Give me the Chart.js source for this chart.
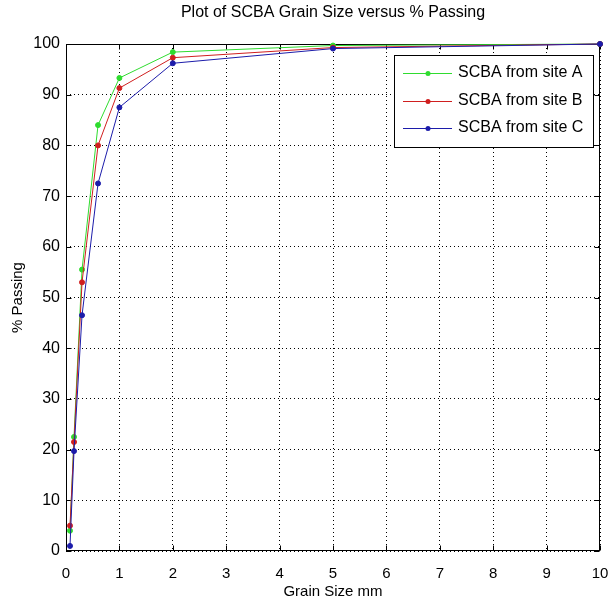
<!DOCTYPE html>
<html>
<head>
<meta charset="utf-8">
<script src="https://cdn.jsdelivr.net/npm/chart.js@4"></script>
<style>
  html, body { margin: 0; padding: 0; background: #fff; }
  #chart { display: block; }
</style>
</head>
<body>
<canvas id="chart" width="609" height="607"></canvas>
<script>
// sieve sizes (mm) and % passing
const grainSize = [0.075, 0.15, 0.3, 0.6, 1, 2, 5, 10];
const siteA = [4, 22.5, 55.5, 84, 93.3, 98.4, 99.7, 100];
const siteB = [5, 21.5, 53, 80, 91.3, 97.3, 99.3, 100];
const siteC = [1, 19.7, 46.5, 72.5, 87.5, 96.2, 99.1, 100];

const seriesLabels = ['SCBA from site A', 'SCBA from site B', 'SCBA from site C'];
const seriesColors = ['#2fdc2f', '#d01f1f', '#1c1caa'];
const xTicks = [0, 1, 2, 3, 4, 5, 6, 7, 8, 9, 10];
const yTicks = [0, 10, 20, 30, 40, 50, 60, 70, 80, 90, 100];
const chartTitle = 'Plot of SCBA Grain Size versus % Passing';

const FONT = "'Liberation Sans', Arial, Helvetica, sans-serif";

const toPoints = (ys) => grainSize.map((g, i) => ({ x: g, y: ys[i] }));

// box round the axes + inward ticks like matlab
const axesBox = {
    id: 'axesBox',
    beforeDatasetsDraw(chart) {
        const { ctx, chartArea: a, scales: { x, y } } = chart;
        const L = Math.round(a.left) + 0.5, R = Math.round(a.right) - 0.5;
        const T = Math.round(a.top) + 0.5, B = Math.round(a.bottom) - 0.5;
        ctx.save();
        ctx.strokeStyle = '#000';
        ctx.lineWidth = 1;
        ctx.setLineDash([]);
        ctx.strokeRect(L, T, R - L, B - T);
        ctx.beginPath();
        xTicks.forEach(v => {
            const px = Math.round(x.getPixelForValue(v)) + 0.5;
            ctx.moveTo(px, B); ctx.lineTo(px, B - 5);
            ctx.moveTo(px, T); ctx.lineTo(px, T + 5);
        });
        yTicks.forEach(v => {
            const py = Math.round(y.getPixelForValue(v)) + 0.5;
            ctx.moveTo(L, py); ctx.lineTo(L + 5, py);
            ctx.moveTo(R, py); ctx.lineTo(R - 5, py);
        });
        ctx.stroke();

        // title sits over the axes, not the whole canvas
        ctx.fillStyle = '#000';
        ctx.font = '16px ' + FONT;
        ctx.textAlign = 'center';
        ctx.textBaseline = 'middle';
        ctx.fillText(chartTitle, (a.left + a.right) / 2, 13);
        ctx.restore();
    }
};

// legend box in the top right corner
const boxLegend = {
    id: 'boxLegend',
    afterDraw(chart) {
        const { ctx } = chart;
        const left = 394.5, top = 55.5, w = 199, h = 92;
        const rows = [73, 101, 128];
        ctx.save();
        ctx.fillStyle = '#fff';
        ctx.fillRect(left, top, w, h);
        ctx.strokeStyle = '#000';
        ctx.lineWidth = 1;
        ctx.strokeRect(left, top, w, h);
        chart.data.datasets.forEach((ds, i) => {
            const yy = rows[i] + 0.5;
            ctx.strokeStyle = ds.borderColor;
            ctx.beginPath();
            ctx.moveTo(403, yy);
            ctx.lineTo(452, yy);
            ctx.stroke();
            ctx.fillStyle = ds.borderColor;
            ctx.beginPath();
            ctx.arc(428, yy, 2.5, 0, Math.PI * 2);
            ctx.fill();
            ctx.fillStyle = '#000';
            ctx.font = '16px ' + FONT;
            ctx.textBaseline = 'middle';
            ctx.fillText(ds.label, 458, rows[i]);
        });
        ctx.restore();
    }
};

const ctx = document.getElementById('chart').getContext('2d');

new Chart(ctx, {
    type: 'line',
    data: {
        datasets: [siteA, siteB, siteC].map((vals, i) => ({
            label: seriesLabels[i],
            data: toPoints(vals),
            borderColor: seriesColors[i],
            backgroundColor: seriesColors[i],
            borderWidth: 1,
            pointRadius: 2.5,
            pointHoverRadius: 2.5,
            tension: 0,
            clip: false,
            order: 3 - i
        }))
    },
    options: {
        responsive: false,
        animation: false,
        layout: { padding: { left: 0, right: 9, top: 44, bottom: 0 } },
        plugins: {
            legend: { display: false },
            tooltip: { enabled: false },
            title: { display: false }
        },
        scales: {
            x: {
                type: 'linear',
                min: 0,
                max: 10,
                afterFit: (s) => { s.height = 56; s.paddingLeft = 0; s.paddingRight = 0; },
                afterBuildTicks: (s) => { s.ticks = xTicks.map(v => ({ value: v })); },
                ticks: { color: '#000', padding: 14, maxRotation: 0, font: { family: FONT, size: 15 } },
                grid: { color: '#000', lineWidth: 1, drawTicks: false },
                border: { display: false, dash: [1, 3] },
                title: {
                    display: true,
                    text: 'Grain Size mm',
                    color: '#000',
                    font: { family: FONT, size: 15 },
                    padding: { top: 0, bottom: 6 }
                }
            },
            y: {
                type: 'linear',
                min: 0,
                max: 100,
                afterFit: (s) => { s.width = 66; s.paddingTop = 0; s.paddingBottom = 0; },
                afterBuildTicks: (s) => { s.ticks = yTicks.map(v => ({ value: v })); },
                ticks: { color: '#000', padding: 6, font: { family: FONT, size: 16 } },
                grid: { color: '#000', lineWidth: 1, drawTicks: false },
                border: { display: false, dash: [1, 3] },
                title: {
                    display: true,
                    text: '% Passing',
                    color: '#000',
                    font: { family: FONT, size: 15 },
                    padding: { top: 9, bottom: 0 }
                }
            }
        }
    },
    plugins: [axesBox, boxLegend]
});
</script>
</body>
</html>
